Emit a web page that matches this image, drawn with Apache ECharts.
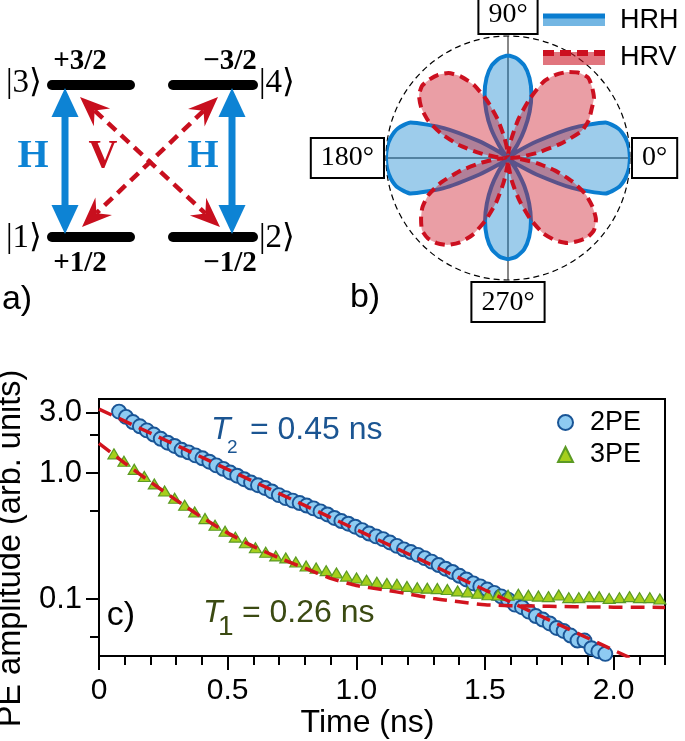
<!DOCTYPE html>
<html><head><meta charset="utf-8">
<script src="https://cdn.jsdelivr.net/npm/echarts@6/dist/echarts.min.js"></script>
<style>html,body{margin:0;padding:0;background:#fff}#c{width:685px;height:741px}</style>
</head><body><div id="c"></div>
<script>
// ---------- Panel c data ----------
const t2PE = [0.078,0.105,0.132,0.159,0.186,0.213,0.240,0.267,0.294,0.321,0.348,0.375,0.402,0.429,0.456,0.483,0.510,0.537,0.564,0.591,0.618,0.645,0.672,0.699,0.726,0.753,0.780,0.807,0.834,0.861,0.888,0.915,0.942,0.969,0.996,1.023,1.050,1.077,1.104,1.131,1.158,1.185,1.212,1.239,1.266,1.293,1.320,1.347,1.374,1.401,1.428,1.455,1.482,1.509,1.536,1.563,1.590,1.617,1.644,1.671,1.698,1.725,1.752,1.779,1.806,1.833,1.860,1.887,1.914,1.941,1.968];
const v2PE = [3.07,2.79,2.54,2.35,2.18,2.02,1.87,1.74,1.64,1.53,1.46,1.38,1.31,1.23,1.15,1.08,1.01,0.953,0.893,0.841,0.800,0.761,0.714,0.668,0.632,0.604,0.578,0.552,0.524,0.496,0.469,0.440,0.416,0.396,0.375,0.352,0.331,0.314,0.299,0.281,0.264,0.248,0.236,0.224,0.211,0.198,0.186,0.174,0.164,0.153,0.143,0.133,0.126,0.119,0.112,0.105,0.0989,0.0902,0.0861,0.0794,0.0733,0.0687,0.0640,0.0589,0.0558,0.0513,0.0468,0.0468,0.0407,0.0385,0.0367];
const t3PE = [0.058,0.097,0.137,0.176,0.215,0.255,0.294,0.333,0.372,0.412,0.451,0.490,0.530,0.569,0.608,0.648,0.687,0.726,0.765,0.805,0.844,0.883,0.923,0.962,1.001,1.040,1.080,1.119,1.158,1.197,1.237,1.276,1.315,1.354,1.394,1.433,1.472,1.512,1.551,1.590,1.630,1.669,1.708,1.747,1.787,1.826,1.865,1.905,1.944,1.983,2.023,2.062,2.101,2.141,2.180];
const v3PE = [1.42,1.24,1.07,0.94,0.82,0.72,0.63,0.555,0.49,0.435,0.385,0.345,0.31,0.28,0.255,0.235,0.22,0.212,0.197,0.183,0.176,0.168,0.161,0.152,0.147,0.141,0.136,0.133,0.131,0.126,0.123,0.122,0.121,0.119,0.116,0.114,0.111,0.108,0.1076,0.107,0.109,0.107,0.1055,0.1045,0.1075,0.1026,0.1026,0.1045,0.1045,0.1012,0.1026,0.1045,0.1026,0.1026,0.100];
const tFit2 = [0, 0.5, 1.0, 1.5, 2.0, 2.1];
const vFit2 = [3.22, 1.07, 0.356, 0.118, 0.0393, 0.0315];
const tFit3 = [0,0.1,0.2,0.3,0.4,0.5,0.6,0.7,0.8,0.9,1.0,1.1,1.2,1.3,1.4,1.5,1.6,1.7,1.8,1.9,2.0,2.1,2.2];
const vFit3 = [1.72,1.20,0.85,0.61,0.445,0.335,0.262,0.212,0.176,0.146,0.128,0.119,0.110,0.101,0.095,0.090,0.0885,0.0878,0.0872,0.0866,0.0862,0.0860,0.0858];
const xMajorTicks = [0, 0.5, 1.0, 1.5, 2.0];
const xMinorTicks = [0.1,0.2,0.3,0.4,0.6,0.7,0.8,0.9,1.1,1.2,1.3,1.4,1.6,1.7,1.8,1.9,2.1,2.2];
const yMajorTicks = [0.1, 1, 3];
const yMinorTicks = [0.05, 0.5, 2];

// ---------- Panel b data (polar) ----------
const polarAngles = [0,5,10,15,20,25,30,35,40,45,50,55,60,65,70,75,80,85,90,95,100,105,110,115,120,125,130,135,140,145,150,155,160,165,170,175,180,185,190,195,200,205,210,215,220,225,230,235,240,245,250,255,260,265,270,275,280,285,290,295,300,305,310,315,320,325,330,335,340,345,350,355,360];
const hrh = [1.0,0.995,0.975,0.935,0.85,0.58,0.27,0.09,0.02,0.0,0.04,0.14,0.27,0.42,0.56,0.68,0.77,0.82,0.84,0.82,0.77,0.68,0.56,0.42,0.28,0.13,0.04,0.0,0.02,0.09,0.28,0.58,0.85,0.935,0.975,0.995,1.0,0.995,0.975,0.935,0.85,0.59,0.27,0.09,0.02,0.0,0.04,0.14,0.27,0.41,0.55,0.67,0.76,0.81,0.83,0.81,0.76,0.67,0.55,0.41,0.27,0.13,0.04,0.0,0.02,0.09,0.27,0.58,0.85,0.935,0.975,0.995,1.0];
const hrv = [0.02,0.10,0.24,0.44,0.64,0.73,0.79,0.86,0.90,0.93,0.91,0.86,0.79,0.69,0.51,0.33,0.16,0.06,0.02,0.07,0.17,0.33,0.50,0.66,0.77,0.85,0.89,0.91,0.92,0.89,0.82,0.72,0.58,0.42,0.24,0.10,0.02,0.09,0.22,0.40,0.58,0.72,0.81,0.87,0.92,0.93,0.91,0.87,0.80,0.70,0.55,0.38,0.20,0.07,0.02,0.08,0.20,0.36,0.53,0.68,0.78,0.85,0.89,0.92,0.92,0.88,0.80,0.70,0.56,0.40,0.24,0.10,0.02];

const SANS = "'Liberation Sans', Arial, Helvetica, sans-serif";
const SERIF = "'Liberation Serif', 'DejaVu Serif', 'Times New Roman', serif";
const BLUE = '#0d83d4', RED = '#c80f1e';

const chart = echarts.init(document.getElementById('c'), null, {renderer: 'canvas'});

function txt(text, x, y, font, fill, align) {
  return {type: 'text', z: 100, style: {text: text, x: x, y: y, font: font, fill: fill,
    align: align || 'center', verticalAlign: 'middle', textAlign: align || 'center', textVerticalAlign: 'middle'}};
}
function seg(x1, y1, x2, y2, stroke, w, dash, cap) {
  return {type: 'line', z: 100, shape: {x1: x1, y1: y1, x2: x2, y2: y2},
    style: {stroke: stroke, lineWidth: w, lineDash: dash || null, lineCap: cap || 'butt'}};
}
function poly(pts, fill) {
  return {type: 'polygon', z: 100, shape: {points: pts}, style: {fill: fill}};
}
// double-headed arrow with barbed heads between two tip points
function barbedArrow(x1, y1, x2, y2, color, L, W, N) {
  const dx = x2 - x1, dy = y2 - y1, len = Math.hypot(dx, dy);
  const ux = dx / len, uy = dy / len, nx = -uy, ny = ux;
  const out = [];
  const h1 = [[x1, y1], [x1 + ux * L + nx * W, y1 + uy * L + ny * W], [x1 + ux * N, y1 + uy * N], [x1 + ux * L - nx * W, y1 + uy * L - ny * W]];
  const h2 = [[x2, y2], [x2 - ux * L + nx * W, y2 - uy * L + ny * W], [x2 - ux * N, y2 - uy * N], [x2 - ux * L - nx * W, y2 - uy * L - ny * W]];
  out.push(seg(x1 + ux * N, y1 + uy * N, x2 - ux * N, y2 - uy * N, color, 4.5, [11, 7]));
  out.push(poly(h1, color));
  out.push(poly(h2, color));
  return out;
}

const graphics = [];
// levels
[[52,85,130,85],[173,85,253,85],[52,237,130,237],[173,237,253,237]].forEach(l =>
  graphics.push(seg(l[0], l[1], l[2], l[3], '#000', 10, null, 'round')));
// blue double arrows
[65, 232].forEach(x => {
  graphics.push(seg(x, 112, x, 210, BLUE, 7));
  graphics.push(poly([[x, 88], [x - 13.5, 117], [x + 13.5, 117]], BLUE));
  graphics.push(poly([[x, 234], [x - 13.5, 205], [x + 13.5, 205]], BLUE));
});
// red dashed double arrows
barbedArrow(80, 97, 220, 227, RED, 30, 12, 20).forEach(g => graphics.push(g));
barbedArrow(218, 97, 82, 227, RED, 30, 12, 20).forEach(g => graphics.push(g));
// panel a texts
graphics.push(txt('H', 33, 157, 'bold 40px ' + SERIF, BLUE));
graphics.push(txt('V', 103, 157, 'bold 40px ' + SERIF, RED));
graphics.push(txt('H', 203, 157, 'bold 40px ' + SERIF, BLUE));
graphics.push(txt('|3\u27E9', 24, 83, '33px ' + SERIF, '#000'));
graphics.push(txt('|4\u27E9', 277, 83, '33px ' + SERIF, '#000'));
graphics.push(txt('|1\u27E9', 24, 238, '33px ' + SERIF, '#000'));
graphics.push(txt('|2\u27E9', 277, 238, '33px ' + SERIF, '#000'));
graphics.push(txt('+3/2', 80, 62, 'bold 29px ' + SERIF, '#000'));
graphics.push(txt('\u22123/2', 230, 62, 'bold 29px ' + SERIF, '#000'));
graphics.push(txt('+1/2', 80, 264, 'bold 29px ' + SERIF, '#000'));
graphics.push(txt('\u22121/2', 230, 264, 'bold 29px ' + SERIF, '#000'));
graphics.push(txt('a)', 17, 300, '34px ' + SANS, '#000'));
graphics.push(txt('b)', 365, 298, '34px ' + SANS, '#000'));
graphics.push(txt('c)', 121, 616, '34px ' + SANS, '#000'));
// panel b legend
graphics.push({type: 'rect', z: 100, shape: {x: 543, y: 17, width: 62, height: 9}, style: {fill: 'rgba(0,122,204,0.55)'}});
graphics.push(seg(543, 16, 605, 16, '#0a7dd0', 5));
graphics.push({type: 'rect', z: 100, shape: {x: 543, y: 52, width: 62, height: 13}, style: {fill: 'rgba(205,25,40,0.6)'}});
graphics.push(seg(543, 53, 605, 53, '#cc1020', 6, [11, 6]));
graphics.push(txt('HRH', 620, 21, '27px ' + SANS, '#000', 'left'));
graphics.push(txt('HRV', 620, 58, '27px ' + SANS, '#000', 'left'));
// panel c annotations
const T2C = '#1b5592', T1C = '#3b4a12';
graphics.push(txt('T', 211, 430, 'italic 32px ' + SANS, T2C, 'left'));
graphics.push(txt('2', 227, 448, '19px ' + SANS, T2C, 'left'));
graphics.push(txt(' = 0.45 ns', 241, 430, '32px ' + SANS, T2C, 'left'));
graphics.push(txt('T', 203, 613, 'italic 32px ' + SANS, T1C, 'left'));
graphics.push(txt('1', 218, 627, '28px ' + SANS, T1C, 'left'));
graphics.push(txt(' = 0.26 ns', 233, 613, '32px ' + SANS, T1C, 'left'));

const tickStyle = {color: '#000', width: 2};
const option = {
  animation: false,
  backgroundColor: '#fff',
  grid: {left: 99, top: 399, width: 566, height: 257, show: true, borderColor: '#000', borderWidth: 2,
    backgroundColor: 'transparent', outerBoundsMode: 'none', containLabel: false},
  xAxis: [{
    type: 'value', min: 0, max: 2.2, position: 'bottom',
    axisLine: {lineStyle: {color: '#000', width: 2}},
    axisTick: {customValues: xMajorTicks, length: 14, lineStyle: tickStyle},
    axisLabel: {customValues: xMajorTicks, margin: 20, fontSize: 30, color: '#000', fontFamily: SANS,
      formatter: v => (v === 0 ? '0' : v.toFixed(1))},
    splitLine: {show: false},
    name: 'Time (ns)', nameLocation: 'middle', nameGap: 50,
    nameTextStyle: {fontSize: 32, color: '#000', fontFamily: SANS, padding: [0, 29, 0, 0]}
  }, {
    type: 'value', min: 0, max: 2.2, position: 'bottom',
    axisLine: {show: false},
    axisTick: {customValues: xMinorTicks, length: 9, lineStyle: tickStyle},
    axisLabel: {show: false}, splitLine: {show: false}
  }],
  yAxis: [{
    type: 'log', logBase: 10, min: 0.0353, max: 3.87, position: 'left',
    axisLine: {lineStyle: {color: '#000', width: 2}},
    axisTick: {customValues: yMajorTicks, length: 13, lineStyle: tickStyle},
    axisLabel: {customValues: yMajorTicks, margin: 17, fontSize: 31, color: '#000', fontFamily: SANS,
      formatter: v => Number(v).toFixed(1)},
    splitLine: {show: false}, minorTick: {show: false},
    name: 'PE amplitude (arb. units)', nameLocation: 'middle', nameGap: 58, nameRotate: 90,
    nameTextStyle: {fontSize: 32.5, color: '#000', fontFamily: SANS, padding: [0, 42, 0, 0]}
  }, {
    type: 'log', logBase: 10, min: 0.0353, max: 3.87, position: 'left',
    axisLine: {show: false},
    axisTick: {customValues: yMinorTicks, length: 9, lineStyle: tickStyle},
    axisLabel: {show: false}, splitLine: {show: false}
  }],
  polar: {center: [508, 158], radius: 122},
  angleAxis: {
    type: 'value', min: 0, max: 360, interval: 90, startAngle: 0, clockwise: false,
    axisLine: {show: true, lineStyle: {color: '#000', width: 1.2, type: [6, 4]}},
    axisTick: {show: false},
    axisLabel: {show: true, margin: 3, formatter: v => v + '\u00B0', fontFamily: SERIF, fontSize: 28, lineHeight: 32, color: '#000',
      borderColor: '#000', borderWidth: 2, padding: [4, 9, 2, 9], backgroundColor: '#fff'},
    splitLine: {show: true, lineStyle: {color: '#888', width: 2}}
  },
  radiusAxis: {type: 'value', min: 0, max: 1, axisLine: {show: false}, axisTick: {show: false},
    axisLabel: {show: false}, splitLine: {show: false}},
  legend: {
    data: ['2PE', '3PE'], orient: 'vertical', left: 552, top: 404, itemWidth: 15, itemHeight: 15, itemGap: 5,
    textStyle: {fontSize: 27, color: '#000', fontFamily: SANS, padding: [0, 0, 0, 12]}
  },
  graphic: graphics,
  series: [
    {name: 'HRH', type: 'line', coordinateSystem: 'polar', showSymbol: false, z: 2, smooth: 0.2,
      data: hrh.map((r, i) => [r, polarAngles[i]]),
      lineStyle: {color: '#0a7dd0', width: 4}, areaStyle: {color: 'rgba(0,122,204,0.55)', origin: 'start'}},
    {name: 'HRV', type: 'line', coordinateSystem: 'polar', showSymbol: false, z: 3, smooth: 0.2,
      data: hrv.map((r, i) => [r, polarAngles[i]]),
      lineStyle: {color: '#cc1020', width: 4, type: [10, 6]}, areaStyle: {color: 'rgba(205,25,40,0.6)', origin: 'start'}},
    {name: '2PE', type: 'scatter', xAxisIndex: 0, yAxisIndex: 0, symbol: 'circle', symbolSize: 14, z: 3,
      data: t2PE.map((t, i) => [t, v2PE[i]]),
      itemStyle: {color: '#8ecbf2', borderColor: '#1a5596', borderWidth: 1.9, opacity: 1}},
    {name: '3PE', type: 'scatter', xAxisIndex: 0, yAxisIndex: 0, symbol: 'triangle', symbolSize: [12, 10], z: 3,
      data: t3PE.map((t, i) => [t, v3PE[i]]),
      itemStyle: {color: '#a5cf1c', borderColor: '#5b9a24', borderWidth: 1.2, opacity: 1}},
    {name: 'fit2', type: 'line', xAxisIndex: 0, yAxisIndex: 0, showSymbol: false, z: 4,
      data: tFit2.map((t, i) => [t, vFit2[i]]),
      lineStyle: {color: '#d2141e', width: 3.5, type: [14, 8]}},
    {name: 'fit3', type: 'line', xAxisIndex: 0, yAxisIndex: 0, showSymbol: false, z: 4, smooth: 0.2,
      data: tFit3.map((t, i) => [t, vFit3[i]]),
      lineStyle: {color: '#d2141e', width: 3.5, type: [14, 8]}}
  ]
};
chart.setOption(option);
</script></body></html>
